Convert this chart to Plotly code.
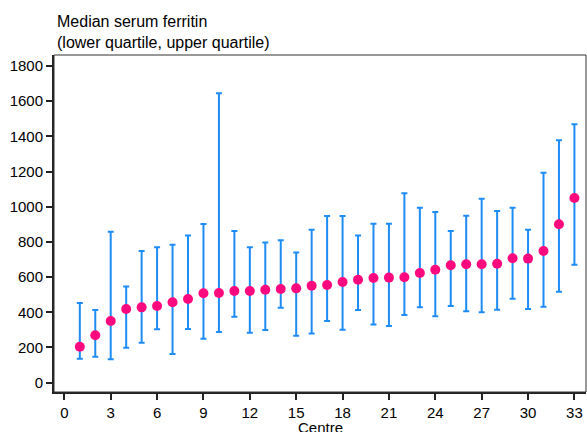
import plotly.graph_objects as go

centre = list(range(1, 34))
median = [204, 269, 350, 419, 428, 436, 457, 475, 508, 510, 521, 521, 528, 532, 536,
          551, 555, 572, 585, 595, 597, 599, 623, 642, 667, 673, 673, 676, 707, 705,
          748, 900, 1049]
lower_q = [136, 148, 133, 199, 227, 303, 163, 305, 250, 288, 375, 284, 299, 426, 267,
           280, 350, 301, 413, 330, 322, 385, 428, 377, 436, 406, 400, 415, 477, 419,
           432, 517, 670]
upper_q = [453, 413, 858, 546, 748, 769, 784, 837, 902, 1644, 862, 769, 797, 809, 739,
           869, 947, 947, 837, 903, 903, 1076, 994, 970, 862, 949, 1045, 976, 994, 869,
           1193, 1377, 1468]
x_ticks = list(range(0, 34, 3))
y_ticks = list(range(0, 1801, 200))

err_plus = [u - m for u, m in zip(upper_q, median)]
err_minus = [m - l for m, l in zip(median, lower_q)]

fig = go.Figure()
fig.add_trace(go.Scatter(
    x=centre, y=median, mode="markers",
    marker=dict(color="#FF0A7E", size=10),
    error_y=dict(type="data", symmetric=False, array=err_plus, arrayminus=err_minus,
                 color="#1E8CF5", thickness=2, width=3),
    showlegend=False,
))

fnt = "Liberation Sans, Arial, sans-serif"
fig.update_layout(
    width=587, height=432,
    margin=dict(l=54, r=1, t=55, b=40),
    plot_bgcolor="white", paper_bgcolor="white",
    font=dict(family=fnt, size=15, color="black"),
    xaxis=dict(range=[-0.67, 33.75], tickvals=x_ticks, showgrid=False, zeroline=False,
               showline=True, linecolor="#222", linewidth=2, mirror=False,
               ticks="outside", ticklen=6, tickwidth=1.5, tickcolor="#222",
               automargin=False),
    yaxis=dict(range=[-53, 1862], tickvals=y_ticks, showgrid=False, zeroline=False,
               showline=True, linecolor="#222", linewidth=2, automargin=False,
               ticks="outside", ticklen=6, tickwidth=1.5, tickcolor="#222"),
    shapes=[dict(type="rect", xref="paper", yref="paper", x0=0, x1=1, y0=0, y1=1,
                 line=dict(color="#333", width=1))],
    annotations=[
        dict(text="Median serum ferritin<br>(lower quartile, upper quartile)",
             xref="paper", yref="paper", x=0, y=1, xanchor="left", yanchor="bottom",
             xshift=1, yshift=2, showarrow=False, align="left",
             font=dict(size=16, family=fnt)),
        dict(text="Centre", xref="paper", yref="paper", x=0.5, y=0,
             xanchor="center", yanchor="top", yshift=-25, showarrow=False,
             font=dict(size=15, family=fnt)),
    ],
)

fig.write_html("out.html", config={"displayModeBar": False},
               post_script="document.body.style.margin='0';document.body.style.overflow='hidden';")
